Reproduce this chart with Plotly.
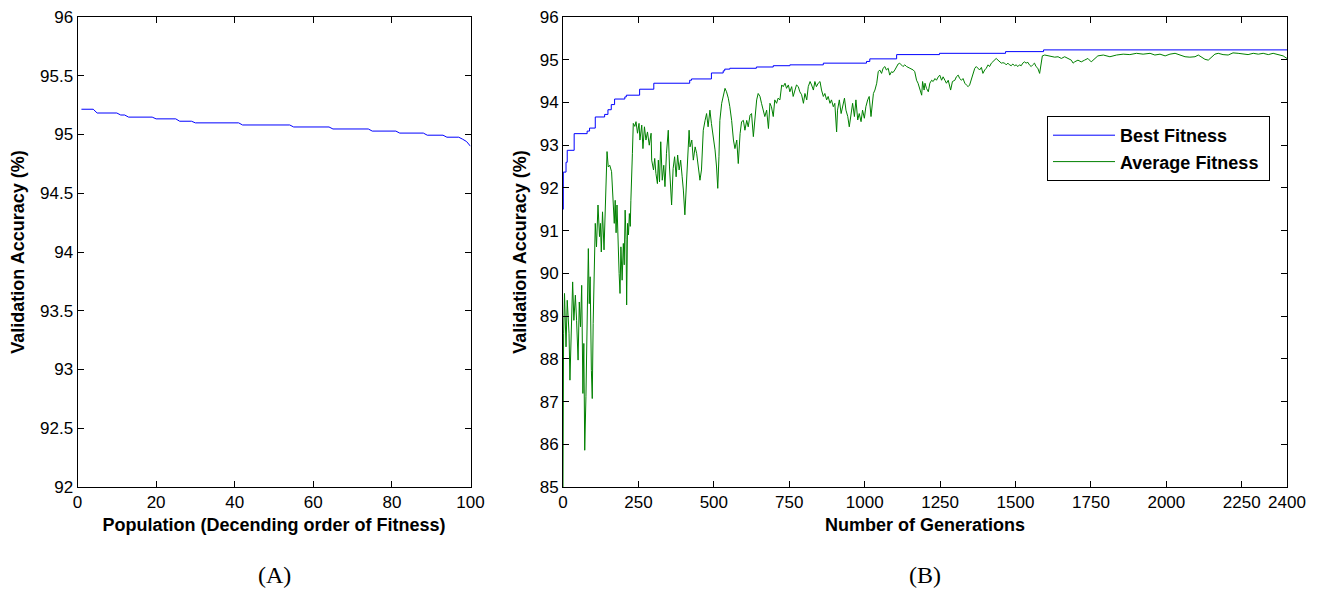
import plotly.graph_objects as go

# ---------------- Data ----------------
# (A) population sorted by fitness
pop_idx = list(range(1, 101))
pop_acc = [
    95.215, 95.215, 95.215, 95.215,
    95.183, 95.183, 95.183, 95.183, 95.183, 95.183,
    95.166, 95.166,
    95.148, 95.148, 95.148, 95.148, 95.148, 95.148, 95.148,
    95.133, 95.133, 95.133, 95.133, 95.133, 95.133,
    95.113, 95.113, 95.113, 95.113,
    95.099, 95.099, 95.099, 95.099, 95.099, 95.099, 95.099, 95.099, 95.099, 95.099, 95.099, 95.099,
    95.081, 95.081, 95.081, 95.081, 95.081, 95.081, 95.081, 95.081, 95.081, 95.081, 95.081, 95.081, 95.081,
    95.064, 95.064, 95.064, 95.064, 95.064, 95.064, 95.064, 95.064, 95.064, 95.064,
    95.047, 95.047, 95.047, 95.047, 95.047, 95.047, 95.047, 95.047, 95.047, 95.047,
    95.029, 95.029, 95.029, 95.029, 95.029, 95.029, 95.029,
    95.012, 95.012, 95.012, 95.012, 95.012, 95.012, 95.012,
    94.994, 94.994, 94.994, 94.994, 94.994,
    94.977, 94.977, 94.977, 94.977,
    94.96, 94.94, 94.90,
]

# (B) best fitness (step changes)
best_gen = [0, 1, 10, 14, 37, 80, 88, 107, 138, 149, 160, 171, 205, 210, 254, 301, 420, 426,
            492, 531, 536, 553, 641, 697, 752, 863, 1006, 1017, 1106, 1248, 1467, 1593, 2400]
best_val = [91.5, 92.37, 92.6, 92.88, 93.27, 93.33, 93.40, 93.66, 93.72, 93.83, 93.95, 94.08, 94.13,
            94.17, 94.31, 94.45, 94.52, 94.55, 94.69, 94.74, 94.78, 94.80, 94.83, 94.86, 94.88,
            94.92, 94.96, 95.02, 95.12, 95.15, 95.19, 95.23, 95.23]

# (B) average fitness
avg_gen = [0, 2, 5, 10, 14, 17, 20, 23, 28, 32, 36, 41, 45, 50, 54, 58, 62, 63, 66, 69, 72, 76, 78, 81, 84,
           87, 90, 94, 97, 100, 104, 107, 111, 116, 121, 124, 127, 131, 136, 140, 143, 146, 150, 155, 161,
           166, 170, 173, 176, 179, 183, 186, 189, 192, 196, 200, 203, 206, 209, 211, 214, 217, 220, 223,
           225, 228, 230, 233, 238, 242, 247, 252, 255, 261, 265, 270, 275, 280, 286, 292, 294, 300, 304,
           308, 313, 316, 320, 324, 329, 334, 338, 343, 349, 353, 357, 360, 365, 370, 375, 380, 385, 390,
           395, 399, 404, 408, 412, 418, 421, 427, 432, 438, 443, 448, 454, 459, 465, 471, 476, 481, 487,
           492, 498, 504, 509, 513, 517, 520, 526, 531, 537, 542, 548, 553, 559, 565, 570, 576, 581, 587,
           592, 598, 603, 609, 614, 620, 625, 631, 636, 642, 647, 653, 658, 664, 669, 675, 681, 686, 691,
           697, 702, 708, 713, 719, 725, 730, 736, 741, 747, 752, 758, 763, 769, 774, 780, 785, 791, 797,
           802, 808, 813, 819, 824, 830, 835, 840, 846, 852, 857, 863, 868, 874, 879, 885, 890, 896, 901,
           907, 910, 916, 922, 927, 933, 938, 944, 949, 954, 960, 966, 971, 977, 982, 988, 993, 999, 1004,
           1010, 1015, 1021, 1024, 1029, 1034, 1040, 1045, 1050, 1056, 1061, 1067, 1072, 1078, 1083, 1089,
           1094, 1100, 1105, 1111, 1116, 1122, 1127, 1133, 1139, 1150, 1161, 1166, 1172, 1177, 1183, 1189,
           1192, 1197, 1200, 1205, 1211, 1216, 1222, 1227, 1233, 1238, 1244, 1249, 1255, 1260, 1266, 1271,
           1277, 1282, 1285, 1291, 1299, 1304, 1310, 1315, 1321, 1326, 1332, 1337, 1343, 1348, 1354, 1359,
           1365, 1370, 1376, 1381, 1387, 1392, 1398, 1403, 1409, 1414, 1420, 1425, 1431, 1436, 1442, 1447,
           1453, 1458, 1464, 1469, 1475, 1480, 1486, 1491, 1497, 1502, 1508, 1513, 1519, 1524, 1530, 1535,
           1541, 1546, 1552, 1557, 1563, 1568, 1574, 1580, 1586, 1589, 1597, 1608, 1619, 1630, 1641, 1652,
           1663, 1674, 1685, 1691, 1696, 1707, 1718, 1729, 1740, 1751, 1762, 1773, 1791, 1813, 1835, 1857,
           1879, 1901, 1923, 1946, 1962, 1979, 1996, 2012, 2029, 2045, 2062, 2078, 2095, 2106, 2117, 2128,
           2139, 2150, 2161, 2172, 2188, 2205, 2221, 2238, 2255, 2271, 2288, 2305, 2321, 2338, 2354, 2371,
           2387, 2400]
avg_val = [85.0, 88.6, 89.53, 88.28, 89.37, 89.07, 88.6, 87.50, 88.90, 89.80, 88.90, 89.49, 88.90, 87.97,
           89.33, 88.75, 89.72, 88.16, 87.19, 88.36, 85.86, 87.11, 88.28, 90.00, 90.58, 89.29, 89.92, 87.73,
           87.07, 88.83, 89.92, 91.17, 90.62, 91.60, 90.86, 91.17, 90.50, 91.44, 90.55, 91.71, 92.4, 92.85,
           92.49, 92.53, 92.38, 91.79, 91.17, 91.71, 90.95, 91.6, 90.4, 90.0, 89.53, 90.62, 89.84, 90.70,
           90.2, 91.48, 90.8, 89.26, 91.17, 90.9, 91.40, 91.10, 91.71, 92.18, 92.8, 93.51, 93.44, 93.55,
           93.28, 93.51, 93.12, 93.47, 92.92, 93.43, 93.12, 93.31, 93.00, 93.28, 92.65, 92.42, 92.69, 92.34,
           92.10, 92.65, 92.14, 93.08, 92.18, 92.53, 92.03, 92.81, 93.35, 92.49, 92.10, 91.60, 92.45, 92.73,
           92.26, 92.77, 92.42, 92.65, 92.26, 91.95, 91.37, 91.95, 92.73, 93.35, 92.96, 93.12, 92.65, 92.96,
           92.81, 92.57, 92.18, 92.42, 93.35, 93.58, 93.74, 93.43, 93.82, 93.51, 93.20, 92.89, 92.49, 91.99,
           92.73, 93.58, 93.98, 94.18, 94.33, 94.25, 94.10, 93.90, 93.58, 93.12, 92.92, 93.12, 92.57, 93.27,
           93.55, 93.58, 93.35, 93.58, 93.43, 93.70, 93.74, 93.20, 93.66, 94.06, 94.21, 94.14, 93.98, 93.79,
           93.67, 93.82, 93.39, 93.98, 93.90, 93.67, 94.06, 93.98, 94.10, 94.06, 94.41, 94.37, 94.45, 94.33,
           94.41, 94.25, 94.37, 94.14, 94.33, 94.41, 94.37, 94.25, 94.18, 93.98, 94.21, 94.06, 94.37, 94.49,
           94.41, 94.29, 94.49, 94.37, 94.45, 94.49, 94.29, 94.14, 94.21, 94.06, 94.14, 93.98, 94.06, 93.90,
           93.98, 93.31, 93.82, 94.06, 93.74, 93.94, 94.10, 93.82, 93.67, 93.43, 93.74, 93.98, 93.67, 94.06,
           93.59, 93.74, 93.55, 93.82, 93.63, 93.90, 94.06, 94.14, 93.67, 93.90, 94.21, 94.29, 94.45, 94.72,
           94.76, 94.68, 94.80, 94.84, 94.76, 94.80, 94.64, 94.72, 94.70, 94.76, 94.84, 94.90, 94.92, 94.88,
           94.84, 94.88, 94.84, 94.80, 94.76, 94.72, 94.52, 94.45, 94.33, 94.17, 94.49, 94.29, 94.45, 94.33,
           94.25, 94.45, 94.52, 94.49, 94.56, 94.52, 94.60, 94.64, 94.52, 94.60, 94.52, 94.45, 94.52, 94.41,
           94.29, 94.49, 94.52, 94.60, 94.64, 94.56, 94.52, 94.56, 94.45, 94.41, 94.37, 94.41, 94.56, 94.68,
           94.80, 94.84, 94.80, 94.76, 94.82, 94.68, 94.76, 94.80, 94.88, 94.84, 94.92, 94.95, 94.99, 95.03,
           94.99, 94.95, 94.92, 94.93, 94.92, 94.88, 94.92, 94.88, 94.86, 94.90, 94.86, 94.88, 94.84, 94.88,
           94.86, 94.92, 94.95, 94.92, 94.94, 94.88, 94.84, 94.88, 94.92, 94.84, 94.80, 94.68, 94.99, 95.09,
           95.11, 95.09, 95.07, 95.06, 95.07, 95.03, 95.07, 95.03, 94.99, 94.92, 94.95, 94.99, 94.95, 94.99,
           95.03, 94.95, 95.03, 95.09, 95.11, 95.07, 95.11, 95.13, 95.12, 95.15, 95.13, 95.15, 95.11, 95.13,
           95.09, 95.13, 95.15, 95.11, 95.07, 95.06, 95.07, 95.11, 95.06, 95.01, 94.99, 95.07, 95.13, 95.15,
           95.12, 95.11, 95.16, 95.15, 95.13, 95.12, 95.15, 95.13, 95.15, 95.12, 95.15, 95.11, 95.09, 95.03]

gen_ticks = [0, 250, 500, 750, 1000, 1250, 1500, 1750, 2000, 2250, 2400]

# ---------------- Figure ----------------
W, H = 1325, 589
FONT = "Liberation Sans, Arial, Helvetica, sans-serif"
SERIF = "Liberation Serif, Times New Roman, serif"

fig = go.Figure()
fig.add_trace(go.Scatter(x=pop_idx, y=pop_acc, mode="lines", line=dict(color="#0000ff", width=1),
                         showlegend=False, xaxis="x", yaxis="y"))
fig.add_trace(go.Scatter(x=best_gen, y=best_val, mode="lines", line=dict(color="#0000ff", width=1, shape="hv"),
                         name="<b>Best Fitness</b>&nbsp;&nbsp;&nbsp;&nbsp;&nbsp;", xaxis="x2", yaxis="y2"))
fig.add_trace(go.Scatter(x=avg_gen, y=avg_val, mode="lines", line=dict(color="#008000", width=1),
                         name="<b>Average Fitness</b>&nbsp;", xaxis="x2", yaxis="y2"))

ydom = [(H - 487) / H, (H - 17) / H]
common = dict(showline=True, linecolor="black", linewidth=1, mirror="allticks", ticks="inside",
              ticklen=6, tickcolor="black", tickwidth=1, showgrid=False, zeroline=False,
              automargin=False,
              tickfont=dict(size=17, color="black", family=FONT))
title_font = dict(size=18, color="black", family=FONT, weight="bold")

fig.update_layout(
    width=W, height=H,
    margin=dict(l=0, r=0, t=0, b=0, autoexpand=False),
    paper_bgcolor="white", plot_bgcolor="white",
    font=dict(family=FONT, color="black"),
    xaxis=dict(domain=[77.5 / W, 470.5 / W], range=[0, 100], dtick=20, anchor="y",
               title=dict(text="Population (Decending order of Fitness)", font=title_font, standoff=6), **common),
    yaxis=dict(domain=ydom, range=[92, 96], dtick=0.5, anchor="x",
               title=dict(text="Validation Accuracy (%)", font=title_font, standoff=10), **common),
    xaxis2=dict(domain=[563 / W, 1287 / W], range=[0, 2400], tickvals=gen_ticks, anchor="y2",
                title=dict(text="Number of Generations", font=title_font, standoff=6), **common),
    yaxis2=dict(domain=ydom, range=[85, 96], dtick=1, anchor="x2",
                title=dict(text="Validation Accuracy (%)", font=title_font, standoff=8), **common),
    legend=dict(x=1047 / W, y=1 - 116 / H, xanchor="left", yanchor="top",
                bordercolor="black", borderwidth=1, bgcolor="white", itemwidth=62,
                tracegroupgap=0, font=dict(size=18, color="black", family=FONT)),
    annotations=[
        dict(text="(A)", x=274 / W, y=0, xref="paper", yref="paper", showarrow=False,
             xanchor="center", yanchor="bottom", borderpad=0,
             font=dict(family=SERIF, size=24, color="black")),
        dict(text="(B)", x=925 / W, y=0, xref="paper", yref="paper", showarrow=False,
             xanchor="center", yanchor="bottom", borderpad=0,
             font=dict(family=SERIF, size=24, color="black")),
    ],
)

fig.write_html("out.html")
